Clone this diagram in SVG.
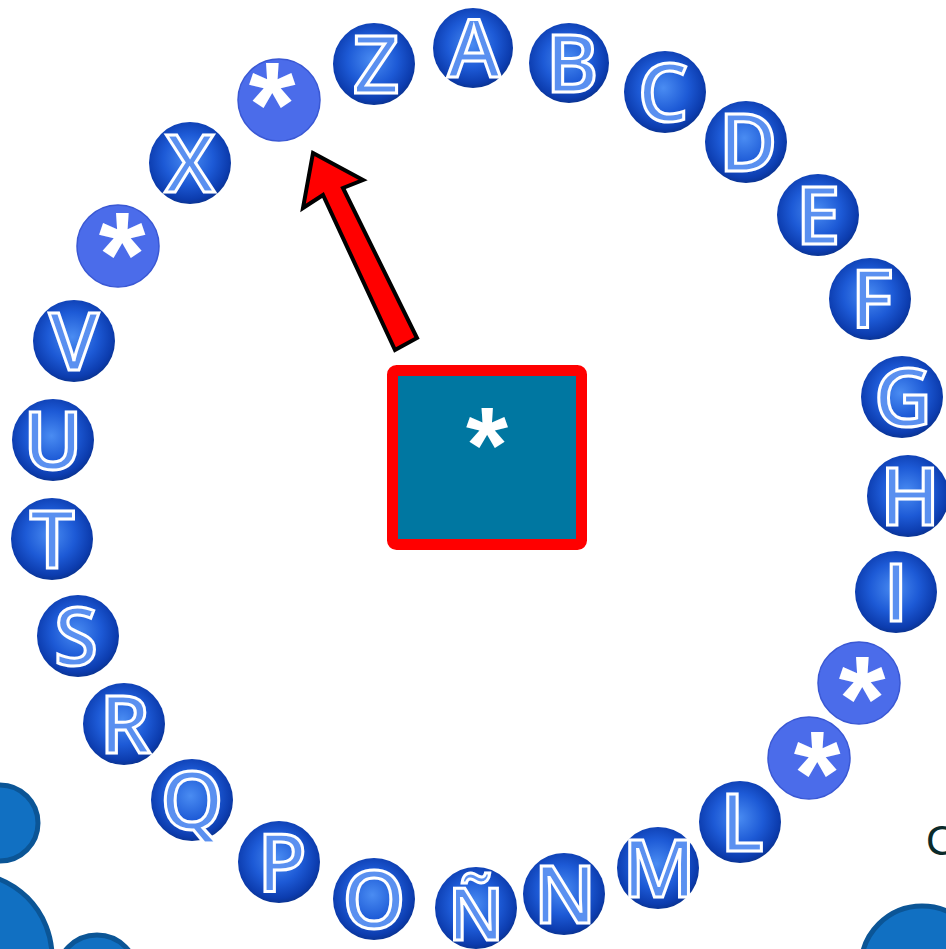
<svg xmlns="http://www.w3.org/2000/svg" width="946" height="949" viewBox="0 0 946 949">
<defs>
<radialGradient id="ball" cx="48%" cy="45%" r="55%">
<stop offset="0" stop-color="#4a8cf2"/>
<stop offset="0.55" stop-color="#1d5ad6"/>
<stop offset="0.9" stop-color="#0c3cae"/>
<stop offset="1" stop-color="#0a3494"/>
</radialGradient>
</defs>
<style>
.ball{fill:url(#ball);}
.let{font-family:"Open Sans","DejaVu Sans",sans-serif;font-size:80px;font-weight:600;fill:#5a90f0;stroke:#ffffff;stroke-width:3;text-anchor:middle;}
.star{fill:#4b6cea;stroke:#3a58d4;stroke-width:1.5;}
.ast{font-family:"Liberation Sans",sans-serif;font-weight:bold;font-size:120px;fill:#ffffff;text-anchor:middle;}
.deco{fill:#1170c2;stroke:#0b5596;stroke-width:5;}
</style>
<rect width="946" height="949" fill="#ffffff"/>

<g id="deco">
<circle class="deco" cx="0" cy="823" r="38"/>
<circle class="deco" cx="-32" cy="957" r="84"/>
<circle class="deco" cx="97" cy="975" r="40"/>
<circle class="deco" cx="922" cy="967" r="61"/>
<text x="926" y="855" font-family="Liberation Sans, sans-serif" font-size="42" fill="#0a2a2a">C</text>
</g>

<g id="node-Z"><circle class="ball" cx="374" cy="64" r="41"/><text class="let" x="376" y="93">Z</text></g>
<g id="node-A"><circle class="ball" cx="473" cy="48" r="40"/><text class="let" x="474" y="77">A</text></g>
<g id="node-B"><circle class="ball" cx="569" cy="63" r="40"/><text class="let" x="572" y="92">B</text></g>
<g id="node-C"><circle class="ball" cx="665" cy="92" r="41"/><text class="let" x="663" y="121">C</text></g>
<g id="node-D"><circle class="ball" cx="746" cy="142" r="41"/><text class="let" x="748" y="171">D</text></g>
<g id="node-E"><circle class="ball" cx="818" cy="215" r="41"/><text class="let" x="818" y="244">E</text></g>
<g id="node-F"><circle class="ball" cx="870" cy="299" r="41"/><text class="let" x="872" y="328">F</text></g>
<g id="node-G"><circle class="ball" cx="902" cy="397" r="41"/><text class="let" x="903" y="426">G</text></g>
<g id="node-H"><circle class="ball" cx="908" cy="496" r="41"/><text class="let" x="910" y="525">H</text></g>
<g id="node-I"><circle class="ball" cx="896" cy="592" r="41"/><text class="let" x="896" y="621">I</text></g>
<g id="node-star1"><circle class="star" cx="859" cy="683" r="41"/><text class="ast" x="862" y="740">*</text></g>
<g id="node-star2"><circle class="star" cx="809" cy="758" r="41"/><text class="ast" x="817" y="815">*</text></g>
<g id="node-L"><circle class="ball" cx="740" cy="822" r="41"/><text class="let" x="742" y="851">L</text></g>
<g id="node-M"><circle class="ball" cx="658" cy="868" r="41"/><text class="let" x="659" y="897">M</text></g>
<g id="node-N"><circle class="ball" cx="564" cy="894" r="41"/><text class="let" x="565" y="923">N</text></g>
<g id="node-NN"><circle class="ball" cx="476" cy="908" r="41"/><text class="let" x="476" y="940" style="font-size:72px">Ñ</text></g>
<g id="node-O"><circle class="ball" cx="374" cy="899" r="41"/><text class="let" x="374" y="928">O</text></g>
<g id="node-P"><circle class="ball" cx="279" cy="862" r="41"/><text class="let" x="282" y="891">P</text></g>
<g id="node-Q"><circle class="ball" cx="192" cy="800" r="41"/><text class="let" x="192" y="829">Q</text></g>
<g id="node-R"><circle class="ball" cx="124" cy="724" r="41"/><text class="let" x="125" y="753">R</text></g>
<g id="node-S"><circle class="ball" cx="78" cy="636" r="41"/><text class="let" x="76" y="665">S</text></g>
<g id="node-T"><circle class="ball" cx="52" cy="539" r="41"/><text class="let" x="52" y="568">T</text></g>
<g id="node-U"><circle class="ball" cx="53" cy="440" r="41"/><text class="let" x="53" y="469">U</text></g>
<g id="node-V"><circle class="ball" cx="74" cy="341" r="41"/><text class="let" x="74" y="370">V</text></g>
<g id="node-star3"><circle class="star" cx="118" cy="246" r="41"/><text class="ast" x="122" y="296">*</text></g>
<g id="node-X"><circle class="ball" cx="190" cy="163" r="41"/><text class="let" x="190" y="192">X</text></g>
<g id="node-star4"><circle class="star" cx="279" cy="100" r="41"/><text class="ast" x="272" y="146">*</text></g>

<g id="node-center">
<rect x="392.5" y="370.5" width="189" height="174" rx="4" fill="#0077a1" stroke="#ff0000" stroke-width="11"/>
<text x="487" y="482" font-family="Liberation Sans, sans-serif" font-weight="bold" font-size="108" fill="#ffffff" text-anchor="middle">*</text>
</g>

<g id="connectors">
<polygon points="313,153 363,180 343,188 417,338 395,350 323,195 303,208" fill="#ff0000" stroke="#000000" stroke-width="4" stroke-linejoin="miter"/>
</g>
</svg>
